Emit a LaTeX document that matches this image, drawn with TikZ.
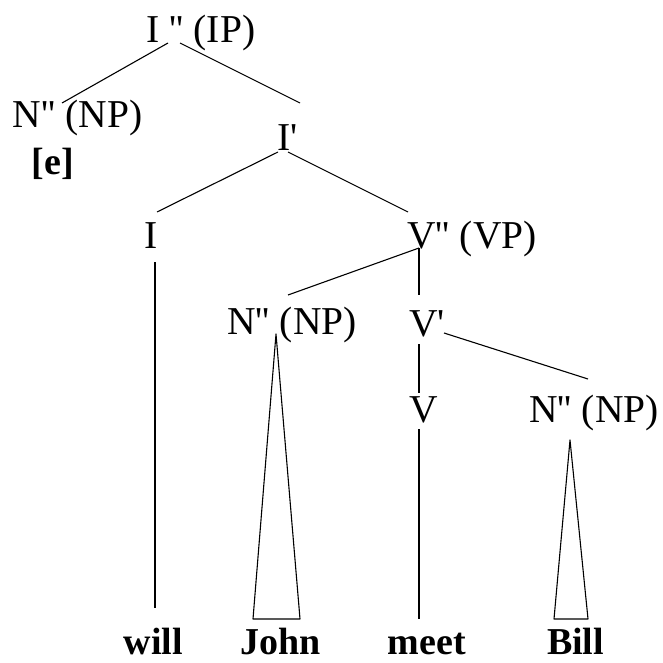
\documentclass[tikz,border=0pt]{standalone}
\usepackage{fontspec}
\setmainfont{Liberation Serif}[Ligatures=TeXOff]
\tikzset{
  trcat/.style={anchor=base, inner sep=0pt, font=\fontsize{39.5}{42}\selectfont},
  trword/.style={trcat, font=\fontsize{38}{42}\selectfont\bfseries},
  trline/.style={draw=black, line width=1.1pt},
  trroof/.style={trline, line join=round}
}

\begin{document}
\begin{tikzpicture}[x=1pt, y=-1pt]
  \useasboundingbox (0,0) rectangle (662,663);
  % categories
  \node[trcat] (ip) at (201,43) {I '' (IP)};
  \node[trcat] (np1) at (77.5,128) {N'' (NP)};
  \node[trword] (e) at (53,175) {[e]};
  \node[trcat] (ibar) at (287.5,150) {I'};
  \node[trcat] (i) at (151,248) {I};
  \node[trcat] (vp) at (472,248) {V'' (VP)};
  \node[trcat] (np2) at (292,334) {N'' (NP)};
  \node[trcat] (vbar) at (427,336) {V'};
  \node[trcat] (v) at (423.5,422) {V};
  \node[trcat] (np3) at (594,422) {N'' (NP)};
  % words
  \node[trword] (will) at (153.5,654) {will};
  \node[trword] (john) at (281,654) {John};
  \node[trword] (meet) at (427,654) {meet};
  \node[trword] (bill) at (575.5,654) {Bill};
  % branches
  \draw[trline] ([xshift=-33pt]ip.base) -- ([xshift=-15.5pt, yshift=25pt]np1.base);
  \draw[trline] ([xshift=-21pt]ip.base) -- ([xshift=12.5pt, yshift=47pt]ibar.base);
  \draw[trline] ([xshift=-9.5pt, yshift=-2pt]ibar.base) -- ([xshift=6pt, yshift=36pt]i.base);
  \draw[trline] ([xshift=0.5pt, yshift=-2pt]ibar.base) -- ([xshift=-64pt, yshift=36pt]vp.base);
  \draw[trline] ([xshift=4pt, yshift=-14pt]i.base) -- ([xshift=1.5pt, yshift=46pt]will.base);
  \draw[trline] ([xshift=-53pt]vp.base) -- ([xshift=-4pt, yshift=39pt]np2.base);
  \draw[trline] ([xshift=-53pt]vp.base) -- ([xshift=-8pt, yshift=41pt]vbar.base);
  \draw[trline] ([xshift=-8pt, yshift=-8pt]vbar.base) -- ([xshift=-4.5pt, yshift=29pt]v.base);
  \draw[trline] ([xshift=17pt, yshift=3pt]vbar.base) -- ([xshift=-6pt, yshift=43pt]np3.base);
  \draw[trline] ([xshift=-4.5pt, yshift=-7pt]v.base) -- ([xshift=-8pt, yshift=35pt]meet.base);
  % roofs
  \draw[trroof] ([xshift=-16pt]np2.base) -- ([xshift=-28pt, yshift=35pt]john.base)
    -- ([xshift=19pt, yshift=35pt]john.base) -- cycle;
  \draw[trroof] ([xshift=-24pt, yshift=-18pt]np3.base) -- ([xshift=-21.5pt, yshift=35pt]bill.base)
    -- ([xshift=12.5pt, yshift=35pt]bill.base) -- cycle;
\end{tikzpicture}
\end{document}
